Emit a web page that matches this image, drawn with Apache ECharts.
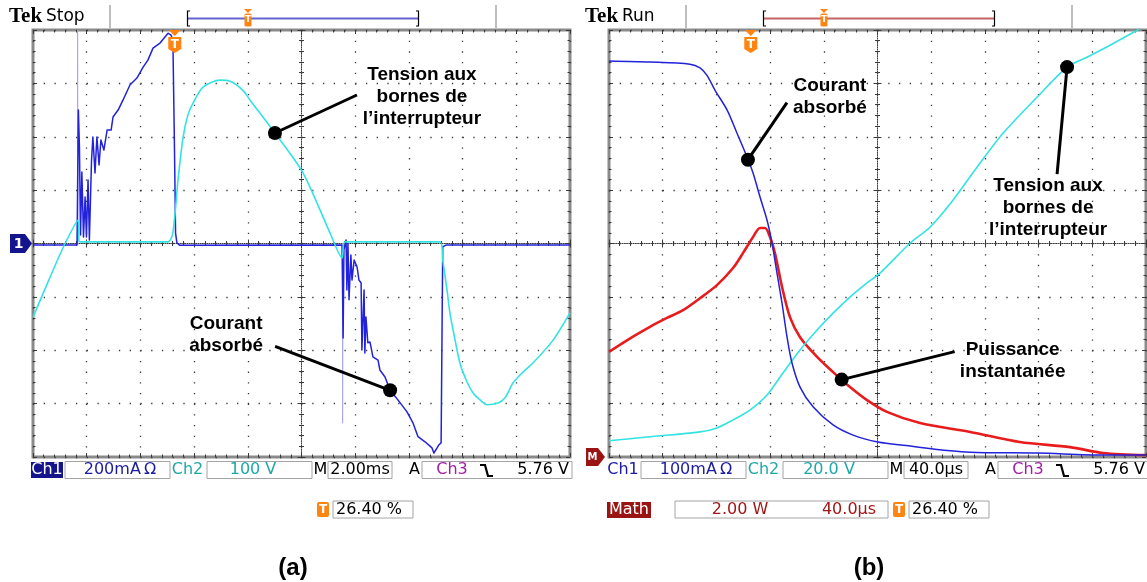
<!DOCTYPE html>
<html>
<head>
<meta charset="utf-8">
<script src="https://cdn.jsdelivr.net/npm/echarts@6/dist/echarts.min.js"></script>
<style>
  html, body { margin: 0; padding: 0; background: #fff; }
  #c { width: 1147px; height: 582px; }
</style>
</head>
<body>
<div id="c"></div>
<script>
// ---------- (a) 2.00 ms/div : Ch1 courant (mA), Ch2 tension (V) ----------
const courantA = [
  [0, -6], [1.64, -6], [1.69, 500], [1.73, 361], [1.77, 32], [1.82, 268], [1.88, 24],
  [1.94, 174], [1.99, 24], [2.05, 238], [2.10, 13], [2.18, 313], [2.23, 399], [2.31, 264],
  [2.38, 399], [2.46, 294], [2.53, 388], [2.64, 350], [2.76, 425], [2.91, 425], [2.98, 474],
  [3.17, 500], [3.35, 537], [3.61, 594], [3.87, 620], [4.10, 661], [4.28, 687], [4.47, 732],
  [4.73, 751], [5.03, 788], [5.14, 781], [5.21, 762], [5.27, 350], [5.31, 39], [5.36, 2],
  [5.47, -7], [11.51, -6], [11.55, -354], [11.58, -24], [11.66, 13], [11.69, -174],
  [11.73, 0], [11.77, -211], [11.84, -43], [11.88, -137], [11.96, -62], [12.07, -88],
  [12.14, -137], [12.22, -148], [12.25, -399], [12.33, -174], [12.36, -410], [12.40, -275],
  [12.47, -372], [12.55, -369], [12.66, -425], [12.85, -437], [12.92, -474], [13.11, -500],
  [13.30, -550], [13.59, -586], [13.93, -631], [14.15, -672], [14.34, -724], [14.60, -743],
  [14.86, -766], [14.93, -785], [15.05, -766], [15.12, -754], [15.20, -747], [15.26, -13],
  [15.38, -6], [20, -6]
];
// fast glitches, shown with low intensity
const picsA = [
  [1.66, -6], [1.66, 800], [1.67, -6], '-',
  [11.53, -6], [11.53, -672], [11.54, -6]
];
const tensionA = [
  [0, -138], [0.56, -72], [1.12, -8], [1.68, 44], [1.71, 6], [1.75, 3], [5.03, 3],
  [5.21, 20], [5.40, 119], [5.59, 199], [5.77, 241], [5.96, 263], [6.33, 293], [6.96, 306],
  [7.34, 304], [7.82, 287], [8.08, 269], [9.01, 207], [10.06, 132], [11.06, 20],
  [11.51, -27], [11.62, 3], [15.16, 3], [15.27, -35], [15.42, -87], [15.53, -131],
  [15.72, -181], [15.90, -224], [16.16, -259], [16.39, -280], [16.65, -293], [16.91, -302],
  [17.32, -299], [17.58, -289], [17.88, -261], [18.25, -241], [18.62, -224], [19.37, -181],
  [20, -130]
];

// ---------- (b) 40.0 µs/div : courant (mA), tension (V), puissance (W) ----------
const courantB = [
  [0, 742], [30.5, 740], [60.3, 736], [67.8, 729], [73, 715], [79, 687], [88, 650],
  [95.3, 607], [102.8, 562], [107.3, 532], [112.5, 487], [117.7, 444], [121.4, 401],
  [125.1, 345], [128.9, 288], [132.6, 225], [136.3, 176], [142.3, 131], [152, 94],
  [166.9, 60], [181.8, 41], [200.4, 28], [219, 22], [269, 9], [318.8, 7.5], [368, 3.7],
  [400, 3.7]
];
const tensionB = [
  [0, 6.1], [30.5, 7.6], [67.8, 9.4], [80.4, 10.9], [92.4, 13.9], [105, 17.6],
  [117.7, 23.2], [129.6, 31.5], [142.3, 40.1], [155, 47.6], [166.9, 53.9], [179.5, 59.9],
  [192.2, 65.2], [201.9, 68.9], [224.2, 80.1], [239.1, 86.1], [256.2, 96.2],
  [274.1, 108.6], [293.5, 121.3], [318.8, 134.8], [341.2, 146.1], [356, 149.8],
  [373.2, 154.3], [393.3, 159.9], [400, 162]
];
const puissanceB = [
  [0, 3.94], [17.9, 4.51], [30.5, 4.88], [43.2, 5.21], [55.1, 5.5], [67.8, 5.95],
  [80.4, 6.44], [92.4, 7.08], [99.8, 7.64], [107.3, 8.24], [112.5, 8.58], [116.2, 8.58],
  [119.9, 8.24], [123.6, 7.64], [128.9, 6.37], [134.8, 5.24], [142.3, 4.49], [155, 3.75],
  [166.9, 3.18], [179.5, 2.62], [192.2, 2.13], [207, 1.69], [231.7, 1.27], [269, 0.94],
  [306, 0.56], [343.4, 0.37], [368, 0.15], [400, 0.07]
];

// Scope read-outs
const headerA = ['Stop', ''];
const headerB = ['Run', 'Trig\u2019d'];
const readoutA = ['200mA\u2009\u03A9', '100 V', '2.00ms', '5.76 V', '26.40 %'];
const readoutB = ['100mA\u2009\u03A9', '20.0 V', '40.0\u00B5s', '5.76 V', '26.40 %'];
const mathB = ['2.00 W', '40.0\u00B5s'];
const panelNames = ['(a)', '(b)'];

// Callout anchors: [series index, [x, y] in data units, label]
const notes = [
  [2, [9.01, 207], 'Tension aux\nbornes de\nl\u2019interrupteur'],
  [0, [13.30, -550], 'Courant\nabsorb\u00E9'],
  [5, [103.5, 557], 'Courant\nabsorb\u00E9'],
  [4, [341.2, 146.1], 'Tension aux\nbornes de\nl\u2019interrupteur'],
  [3, [173.3, 2.9], 'Puissance\ninstantan\u00E9e']
];
// Callout layout: leader-line end and text centre, relative to the dot (px)
const noteLayout = [
  { line: [82, -38], text: [147, -36] },
  { line: [-115, -44], text: [-164, -56] },
  { line: [39, -57], text: [82, -63] },
  { line: [-10, 107], text: [-19, 141] },
  { line: [113, -28], text: [171, -19] }
];

// ---------- layout ----------
const GW = 537, GH = 427, GT = 30;
const GL = [33, 609];
const PANEL_DX = 576;
const DOT = '#3a3a3a';
const C_CH1 = '#2222dc', C_CH1_LIGHT = '#a8a8f2', C_CH2 = '#33e3e3', C_MATH = '#e81c1c';
const ORANGE = '#ff8410';

function tickBase(gi, min, max, step) {
  return {
    type: 'value', gridIndex: gi, min: min, max: max, interval: step,
    axisLabel: { show: false }, splitLine: { show: false },
    axisLine: { show: false, onZero: false },
    axisTick: { show: true, inside: true, length: 4, lineStyle: { color: DOT } },
    minorTick: { show: true, splitNumber: 5, length: 2.5, lineStyle: { color: DOT } }
  };
}
// horizontal axes of one screen: bottom (with dotted verticals), top, centre (both sides)
function xFrame(gi, min, max, step) {
  const gap = GH / 40;
  const b = () => tickBase(gi, min, max, step);
  return [
    Object.assign(b(), { position: 'bottom',
      splitLine: { show: true, lineStyle: { color: DOT, width: 1.3, type: [1.3, gap - 1.3] } } }),
    Object.assign(b(), { position: 'top' }),
    Object.assign(b(), { position: 'bottom', offset: -GH / 2,
      axisLine: { show: true, onZero: false, lineStyle: { color: DOT, width: 1, type: [1, 1.2] } } }),
    Object.assign(b(), { position: 'bottom', offset: -GH / 2,
      axisTick: { show: true, inside: false, length: 4, lineStyle: { color: DOT } } })
  ];
}
function yFrame(gi, min, max, step) {
  const gap = GW / 50;
  const b = () => tickBase(gi, min, max, step);
  return [
    Object.assign(b(), { position: 'left',
      splitLine: { show: true, lineStyle: { color: DOT, width: 1.3, type: [1.3, gap - 1.3] } } }),
    Object.assign(b(), { position: 'right' }),
    Object.assign(b(), { position: 'left', offset: -GW / 2,
      axisLine: { show: true, onZero: false, lineStyle: { color: DOT, width: 1, type: [1, 1.2] } } }),
    Object.assign(b(), { position: 'left', offset: -GW / 2,
      axisTick: { show: true, inside: false, length: 4, lineStyle: { color: DOT } } })
  ];
}
function trace(data, xi, yi, color, width, z, smooth) {
  return { type: 'line', data: data, xAxisIndex: xi, yAxisIndex: yi, showSymbol: false,
    symbol: 'none', clip: true, silent: true, z: z, smooth: smooth || false,
    lineStyle: { color: color, width: width, join: 'round' } };
}

const chart = echarts.init(document.getElementById('c'), null,
  { renderer: 'canvas', width: 1147, height: 582 });

chart.setOption({
  animation: false,
  backgroundColor: '#ffffff',
  grid: GL.map(l => ({ left: l, top: GT, width: GW, height: GH, show: true,
    borderColor: '#8a8a8a', borderWidth: 3, backgroundColor: '#ffffff' })),
  xAxis: [].concat(xFrame(0, 0, 20, 2), xFrame(1, 0, 400, 40)),
  yAxis: [].concat(
    yFrame(0, -800, 800, 200),
    [{ type: 'value', gridIndex: 0, min: -400, max: 400, show: false }],
    yFrame(1, 0, 800, 100),
    [{ type: 'value', gridIndex: 1, min: 0, max: 160, show: false },
     { type: 'value', gridIndex: 1, min: 0, max: 16, show: false }]
  ),
  series: [
    trace(courantA, 0, 0, C_CH1, 1.5, 3),
    trace(picsA, 0, 0, C_CH1_LIGHT, 1.2, 2),
    trace(tensionA, 0, 4, C_CH2, 1.6, 4, 0.25),
    trace(puissanceB, 4, 10, C_MATH, 2.6, 2, 0.3),
    trace(tensionB, 4, 9, C_CH2, 1.6, 3, 0.3),
    trace(courantB, 4, 5, C_CH1, 1.5, 4, 0.3)
  ]
});

// ---------- screen furniture ----------
const FONT = '16px "DejaVu Sans", sans-serif';
const els = [];
function rect(x, y, w, h, fill, stroke, r) {
  els.push({ type: 'rect', silent: true, z: 10,
    shape: { x: x, y: y, width: w, height: h, r: r || 0 },
    style: { fill: fill, stroke: stroke || null, lineWidth: 1 } });
}
function text(str, x, y, color, font, align) {
  els.push({ type: 'text', silent: true, z: 11,
    style: { text: str, x: x, y: y, fill: color, font: font || FONT,
      textAlign: align || 'center', textVerticalAlign: 'middle' } });
}
function poly(points, color, width, fill) {
  els.push({ type: fill ? 'polygon' : 'polyline', silent: true, z: 11,
    shape: { points: points },
    style: fill ? { fill: color } : { stroke: color, lineWidth: width, fill: null } });
}
function tIcon(cx, cy) {
  rect(cx - 6, cy - 7.5, 12, 15, ORANGE, null, 2);
  text('T', cx, cy + 0.5, '#fff', 'bold 12px "DejaVu Sans", sans-serif');
}

[0, 1].forEach(p => {
  const ox = p * PANEL_DX;
  const head = p ? headerB : headerA;
  const rd = p ? readoutB : readoutA;
  // header
  text('Tek', ox + 9, 17, '#000', 'bold 21px "Liberation Serif", serif', 'left');
  text(head[0], ox + 46, 17, '#000', '17px "DejaVu Sans", sans-serif', 'left');
  if (head[1]) text(head[1], ox + 1077, 17, '#000', '17px "DejaVu Sans", sans-serif', 'left');
  els.push({ type: 'line', silent: true, z: 10, shape: { x1: ox + 110, y1: 5, x2: ox + 110, y2: 28 },
    style: { stroke: '#a8a8a8', lineWidth: 1.5 } });
  els.push({ type: 'line', silent: true, z: 10, shape: { x1: ox + 496, y1: 5, x2: ox + 496, y2: 28 },
    style: { stroke: '#a8a8a8', lineWidth: 1.5 } });
  els.push({ type: 'line', silent: true, z: 10, shape: { x1: ox + 188, y1: 18.5, x2: ox + 418, y2: 18.5 },
    style: { stroke: p ? '#c46464' : '#6464cc', lineWidth: 2 } });
  poly([[ox + 190, 11], [ox + 187.5, 11], [ox + 187.5, 26], [ox + 190, 26]], '#000', 1.2);
  poly([[ox + 416, 11], [ox + 418.5, 11], [ox + 418.5, 26], [ox + 416, 26]], '#000', 1.2);
  poly([[ox + 244, 9], [ox + 252, 9], [ox + 248, 13]], ORANGE, 0, true);
  rect(ox + 244.5, 13.5, 7, 13, ORANGE, null, 1.5);
  text('T', ox + 248, 20, '#fff', 'bold 9px "DejaVu Sans", sans-serif');
  // trigger position marker on the graticule
  const tx = GL[p] + 0.264 * GW;
  poly([[tx - 6, GT], [tx + 6, GT], [tx, GT + 6]], ORANGE, 0, true);
  poly([[tx - 6.5, GT + 7], [tx + 6.5, GT + 7], [tx + 6.5, GT + 19], [tx, GT + 23], [tx - 6.5, GT + 19]], ORANGE, 0, true);
  text('T', tx, GT + 14.5, '#fff', 'bold 12px "DejaVu Sans", sans-serif');

  // read-out line 1
  const y1 = 470;
  if (p === 0) {
    rect(ox + 31, 462, 32, 16, '#14148c');
    text('Ch1', ox + 47, y1, '#ffffff');
  } else {
    text('Ch1', ox + 47, y1, '#1c1ca8');
  }
  rect(ox + 65, 461.5, 105, 17, '#fff', '#a4a4a4');
  text(rd[0], ox + 120, y1, '#1c1ca0');
  text('Ch2', ox + 187.5, y1, '#1fa8a8');
  rect(ox + 207, 461.5, 105, 17, '#fff', '#a4a4a4');
  text(rd[1], ox + 253, y1, '#1fa8a8');
  text('M', ox + 320.5, y1, '#000');
  rect(ox + 328, 461.5, 64, 17, '#fff', '#a4a4a4');
  text(rd[2], ox + 360, y1, '#000');
  text('A', ox + 414.5, y1, '#000');
  rect(ox + 422, 461.5, 150, 17, '#fff', '#a4a4a4');
  text('Ch3', ox + 452, y1, '#a21ea8');
  poly([[ox + 480, 465], [ox + 485, 465], [ox + 488, 476], [ox + 493, 476]], '#000', 2.2);
  text(rd[3], ox + 569, y1, '#000', FONT, 'right');
  // read-out line 2
  const y2 = 509.5;
  tIcon(ox + 323, y2);
  rect(ox + 333, 501, 80, 17, '#fff', '#a4a4a4');
  text(rd[4], ox + 369, y2, '#000');
  if (p === 1) {
    rect(ox + 31, 502, 44, 16, '#9a1414');
    text('Math', ox + 53, y2 + 0.5, '#ffffff');
    rect(ox + 99, 501, 213, 17, '#fff', '#a4a4a4');
    text(mathB[0], ox + 164, y2, '#a01818');
    text(mathB[1], ox + 273, y2, '#a01818');
  }
  text(panelNames[p], ox + 293, 568, '#000', 'bold 24px "Liberation Sans", Arial, sans-serif');
});

// channel reference markers
poly([[10, 234], [25, 234], [32, 243.5], [25, 253], [10, 253]], '#14148c', 0, true);
text('1', 18.5, 244, '#fff', 'bold 14px "DejaVu Sans", sans-serif');
poly([[586, 448], [598, 448], [605, 457], [598, 466], [586, 466]], '#9a1414', 0, true);
text('M', 592.5, 457.5, '#fff', 'bold 10px "DejaVu Sans", sans-serif');

// callouts
notes.forEach((n, i) => {
  const pt = chart.convertToPixel({ seriesIndex: n[0] }, n[1]);
  const lay = noteLayout[i];
  els.push({ type: 'line', silent: true, z: 20,
    shape: { x1: pt[0], y1: pt[1], x2: pt[0] + lay.line[0], y2: pt[1] + lay.line[1] },
    style: { stroke: '#000', lineWidth: 3 } });
  els.push({ type: 'circle', silent: true, z: 21, shape: { cx: pt[0], cy: pt[1], r: 7 },
    style: { fill: '#000' } });
  els.push({ type: 'text', silent: true, z: 22,
    style: { text: n[2], x: pt[0] + lay.text[0], y: pt[1] + lay.text[1], fill: '#000',
      font: 'bold 19px "Liberation Sans", Arial, sans-serif', lineHeight: 22,
      textAlign: 'center', textVerticalAlign: 'middle' } });
});

chart.setOption({ graphic: { elements: els } });
</script>
</body>
</html>
